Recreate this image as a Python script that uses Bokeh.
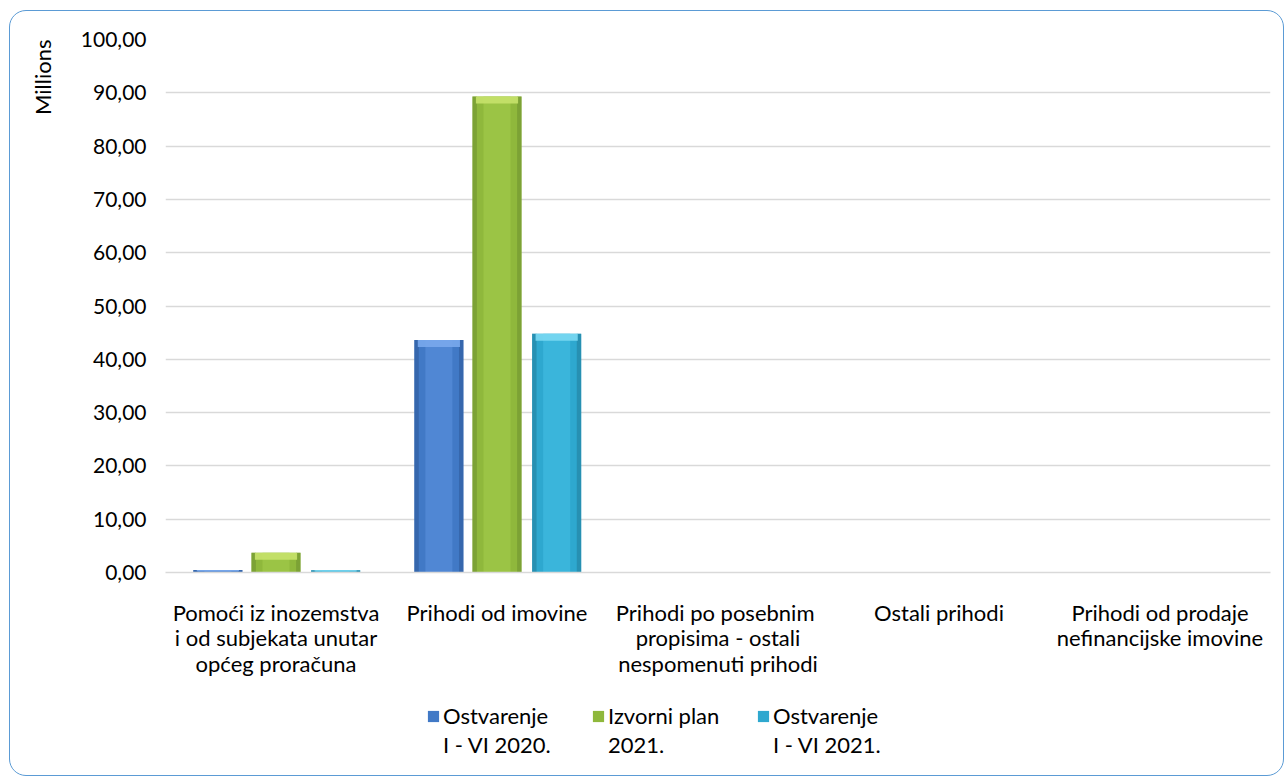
import numpy as np
from bokeh.plotting import figure
from bokeh.layouts import column
from bokeh.models import (Range1d, FixedTicker, CustomJSTickFormatter, Legend, LegendItem, Title)
from bokeh.embed import file_html
from bokeh.resources import INLINE

categories = [
    "Pomoći iz inozemstva\ni od subjekata unutar\nopćeg proračuna",
    "Prihodi od imovine",
    "Prihodi  po posebnim\npropisima - ostali\nnespomenuti prihodi",
    "Ostali prihodi",
    "Prihodi od prodaje\nnefinancijske imovine",
]
series_line1 = ["Ostvarenje", "Izvorni plan", "Ostvarenje"]
series_line2 = ["I - VI 2020.", "2021.", "I - VI 2021."]
ostvarenje_2020 = [0.45, 43.6, 0.0, 0.0, 0.0]
izvorni_plan_2021 = [3.7, 89.3, 0.0, 0.0, 0.0]
ostvarenje_2021 = [0.4, 44.8, 0.0, 0.0, 0.0]
y_ticks = [0, 10, 20, 30, 40, 50, 60, 70, 80, 90, 100]

FONT = "Lato"
W, H = 1285, 776
H1 = 692
H2 = H - H1
FRAME_LEFT = 165

border_css = """
:host { position: relative; }
:host::after {
  content: "";
  position: absolute;
  left: 9px; top: 10px;
  width: 1275px; height: 766px;
  box-sizing: border-box;
  border: 1.5px solid #5b9bd5;
  border-radius: 17px;
  pointer-events: none;
  z-index: 100;
}
"""

p = figure(width=W, height=H1, output_backend="svg", toolbar_location=None,
           x_range=Range1d(0, len(categories)), y_range=Range1d(0, 100),
           min_border_left=FRAME_LEFT, min_border_right=W - 1270, min_border_top=39,
           min_border_bottom=H1 - 572)
p.outline_line_color = None
p.background_fill_color = "white"
p.border_fill_color = "white"

# bars
series = [ostvarenje_2020, izvorni_plan_2021, ostvarenje_2021]
offsets = [-0.263, 0.0, 0.27]
bar_w = 0.222
body = ["#4179c6", "#8fb83c", "#2ea8cf"]
dark = ["#2f5c9c", "#6f9330", "#23819f"]
light = ["#5d93e0", "#a5cd4c", "#45c0e6"]
cap = ["#79a9ec", "#c6e26a", "#7ad8f2"]
centers = np.arange(len(categories)) + 0.5
for vals, off, b, d, l, c in zip(series, offsets, body, dark, light, cap):
    v = np.array(vals, dtype=float)
    xs = centers + off
    p.vbar(x=xs, top=v, bottom=0, width=bar_w, fill_color=b, line_color=None)
    m = v > 0
    xm, vm = xs[m], v[m]
    p.vbar(x=xm, top=vm, bottom=0, width=bar_w * 0.55, fill_color=l, fill_alpha=0.55, line_color=None)
    e = 0.02
    p.vbar(x=xm - bar_w / 2 + e / 2, top=vm, bottom=0, width=e, fill_color=d, fill_alpha=0.6, line_color=None)
    p.vbar(x=xm + bar_w / 2 - e / 2, top=vm, bottom=0, width=e, fill_color=d, fill_alpha=0.6, line_color=None)
    capb = np.maximum(vm - 1.3, vm * 0.5)
    p.vbar(x=xm, top=vm, bottom=capb, width=bar_w * 0.86, fill_color=c, fill_alpha=0.9, line_color=None)

# axes
p.xaxis.ticker = FixedTicker(ticks=list(centers))
p.xaxis.major_label_overrides = {float(cx): lab for cx, lab in zip(centers, categories)}
p.xaxis.axis_line_color = "#d9d9d9"
p.xaxis.axis_line_width = 1.5
p.xaxis.major_tick_line_color = None
p.xaxis.minor_tick_line_color = None
p.xaxis.major_label_standoff = 20
p.xaxis.major_label_text_font = FONT
p.xaxis.major_label_text_font_size = "22px"
p.xaxis.major_label_text_line_height = 0.95
p.xaxis.major_label_text_color = "black"

p.yaxis.ticker = FixedTicker(ticks=y_ticks)
p.yaxis.formatter = CustomJSTickFormatter(code="return tick.toFixed(2).replace('.', ',');")
p.yaxis.axis_line_color = None
p.yaxis.major_tick_line_color = None
p.yaxis.minor_tick_line_color = None
p.yaxis.major_label_standoff = 13
p.yaxis.major_label_text_font = FONT
p.yaxis.major_label_text_font_size = "21px"
p.yaxis.major_label_text_color = "black"

p.xgrid.grid_line_color = None
p.ygrid.grid_line_color = "#d9d9d9"
p.ygrid.grid_line_width = 1.5

# axis title "Millions"
p.add_layout(Title(text="Millions", align="right", vertical_align="bottom", offset=0,
                   standoff=43, text_font=FONT, text_font_size="22px",
                   text_font_style="normal", text_color="black"), "left")

# legend (separate strip under the chart; its frame aligns with the chart frame)
p2 = figure(width=W, height=H2, output_backend="svg", toolbar_location=None,
            x_range=Range1d(0, 1), y_range=Range1d(0, 1),
            x_axis_type=None, y_axis_type=None, min_border=0,
            min_border_left=0, min_border_right=0, min_border_top=0, min_border_bottom=0)
p2.outline_line_color = None
p2.xgrid.grid_line_color = None
p2.ygrid.grid_line_color = None
p2.background_fill_color = "white"
p2.border_fill_color = "white"

items1, items2 = [], []
for b, n1, n2 in zip(body, series_line1, series_line2):
    r1 = p2.vbar(x=[np.nan], top=[np.nan], width=0.5, fill_color=b, line_color=None)
    r2 = p2.vbar(x=[np.nan], top=[np.nan], width=0.5, fill_alpha=0, line_alpha=0)
    items1.append(LegendItem(label=n1, renderers=[r1]))
    items2.append(LegendItem(label=n2, renderers=[r2]))

common = dict(orientation="horizontal", label_text_font=FONT, label_text_font_size="22px",
              label_text_color="black", glyph_width=14, glyph_height=14, label_standoff=3,
              label_width=145, spacing=3, padding=0, margin=0,
              background_fill_alpha=0, border_line_color=None)
LEG_X = 426 - FRAME_LEFT
p2.add_layout(Legend(items=items1, location=(LEG_X, 47), **common), "center")
p2.add_layout(Legend(items=items2, location=(LEG_X, 18), **common), "center")

layout = column(p, p2, spacing=0, stylesheets=[border_css])

open("out.html", "w").write(file_html(layout, INLINE))
